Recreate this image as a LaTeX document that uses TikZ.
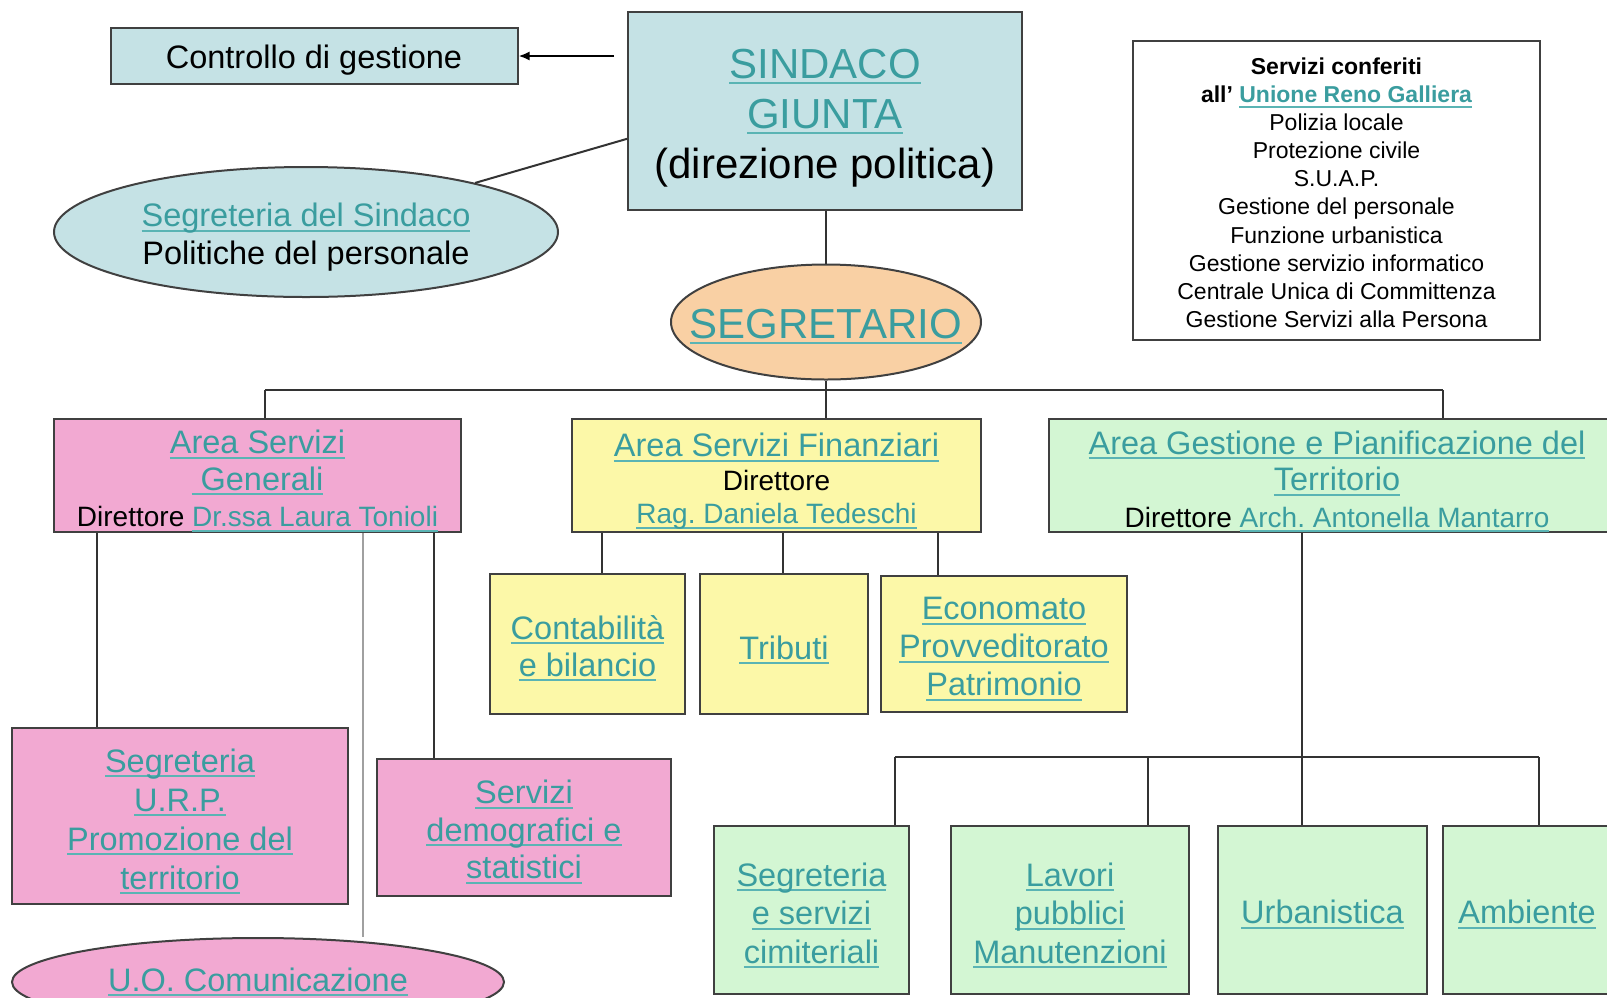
\documentclass[tikz,border=0pt]{standalone}
\usepackage{fontspec}
\setmainfont{Liberation Sans}
\usetikzlibrary{shapes.geometric,arrows.meta}
\frenchspacing

\definecolor{azzurro}{HTML}{C5E2E5}
\definecolor{rosa}{HTML}{F2A9D2}
\definecolor{giallo}{HTML}{FCF8A8}
\definecolor{verde}{HTML}{D3F6D3}
\definecolor{pesca}{HTML}{F9D0A4}
\definecolor{linkteal}{HTML}{3A9D9F}
\definecolor{sottolinea}{HTML}{5AB4B4}
\definecolor{bordo}{HTML}{404040}
\definecolor{filoscuro}{HTML}{333333}
\definecolor{filochiaro}{HTML}{A0A0A0}

\newsavebox\lkbox
\newcommand\lk[1]{{\color{linkteal}\sbox\lkbox{#1}\rlap{\color{sottolinea}\rule[-5pt]{\wd\lkbox}{1.8pt}}\usebox\lkbox}}
\newcommand\su[1]{\rule{0pt}{#1pt}}
\newcommand\grande{\fontsize{42}{50}\selectfont}
\newcommand\medio{\fontsize{32.5}{37}\selectfont}
\newcommand\piccolo{\fontsize{28}{37}\selectfont}
\newcommand\minimo{\fontsize{23}{28.1}\selectfont}

\tikzset{every path/.style={line width=2pt}}
\tikzset{
  orgbox/.style={rectangle,draw=bordo,align=center,inner sep=0pt},
  orgoval/.style={ellipse,draw=bordo,align=center,inner sep=0pt},
  conn/.style={draw=filoscuro},
  connlight/.style={draw=filochiaro},
}

\begin{document}
\begin{tikzpicture}[x=1pt,y=-1pt]
  \useasboundingbox (0,0) rectangle (1607,997);
  \node[orgbox,fill=azzurro,minimum width=407,minimum height=56,font=\medio] (ctrl) at (314,56) {\su{32}Controllo di gestione};
  \node[orgbox,fill=azzurro,minimum width=394,minimum height=198,font=\grande] (sindaco) at (825,111) {\su{44}\lk{SINDACO}\\\lk{GIUNTA}\\(direzione politica)};
  \node[orgoval,fill=azzurro,minimum width=504,minimum height=130,font=\fontsize{32.5}{38}\selectfont] (segsind) at (306,232) {\su{34}\lk{Segreteria del Sindaco}\\Politiche del personale};
  \node[orgoval,fill=pesca,minimum width=310,minimum height=115,inner xsep=-27pt,font=\grande] (segr) at (826,322) {\su{38}\lk{SEGRETARIO}};
  \node[orgbox,fill=white,minimum width=407,minimum height=299,font=\minimo] (conf) at (1336.5,190.5) {\su{21}\textbf{Servizi conferiti}\\\textbf{all' \lk{Unione Reno Galliera}}\\Polizia locale\\Protezione civile\\S.U.A.P.\\Gestione del personale\\Funzione urbanistica\\Gestione servizio informatico\\Centrale Unica di Committenza\\Gestione Servizi alla Persona};

  \node[orgbox,fill=rosa,minimum width=407,minimum height=113,font=\fontsize{32.5}{36.5}\selectfont] (asg) at (257.5,475.5) {\su{34}\lk{Area Servizi}\\\lk{\ Generali}\\{\piccolo Direttore \lk{Dr.ssa Laura Tonioli}}};
  \node[orgbox,fill=giallo,minimum width=409,minimum height=113,font=\fontsize{32.5}{33.5}\selectfont] (asf) at (776.5,475.5) {\su{35}\lk{Area Servizi Finanziari}\\{\piccolo Direttore}\\{\piccolo\lk{Rag. Daniela Tedeschi}}};
  \node[orgbox,fill=verde,minimum width=576,minimum height=113,font=\fontsize{32.5}{36.5}\selectfont] (agp) at (1337,475.5) {\su{35}\lk{Area Gestione e Pianificazione del}\\\lk{Territorio}\\{\piccolo Direttore \lk{Arch. Antonella Mantarro}}};

  \node[orgbox,fill=giallo,minimum width=195,minimum height=140,font=\medio] (cont) at (587.5,644) {\su{32}\lk{Contabilità}\\\lk{e bilancio}};
  \node[orgbox,fill=giallo,minimum width=168,minimum height=140,font=\medio] (trib) at (784,644) {\su{35}\lk{Tributi}};
  \node[orgbox,fill=giallo,minimum width=246,minimum height=136,font=\fontsize{32.5}{38}\selectfont] (econ) at (1004,644) {\su{32}\lk{Economato}\\\lk{Provveditorato}\\\lk{Patrimonio}};

  \node[orgbox,fill=rosa,minimum width=336,minimum height=176,font=\fontsize{32.5}{39}\selectfont] (urp) at (180,816) {\su{34}\lk{Segreteria}\\\lk{U.R.P.}\\\lk{Promozione del}\\\lk{territorio}};
  \node[orgbox,fill=rosa,minimum width=294,minimum height=137,font=\fontsize{32.5}{37.5}\selectfont] (demo) at (524,827.5) {\su{32}\lk{Servizi}\\\lk{demografici e}\\\lk{statistici}};
  \node[orgoval,fill=rosa,minimum width=492,minimum height=88,font=\medio] (uo) at (258,982) {\lk{U.O. Comunicazione}};

  \node[orgbox,fill=verde,minimum width=195,minimum height=168,font=\fontsize{32.5}{38.5}\selectfont] (cim) at (811.5,910) {\su{34}\lk{Segreteria}\\\lk{e servizi}\\\lk{cimiteriali}};
  \node[orgbox,fill=verde,minimum width=238,minimum height=168,font=\fontsize{32.5}{38.5}\selectfont] (lav) at (1070,910) {\su{34}\lk{Lavori}\\\lk{pubblici}\\\lk{Manutenzioni}};
  \node[orgbox,fill=verde,minimum width=209,minimum height=168,font=\medio] (urb) at (1322.5,910) {\su{32}\lk{Urbanistica}};
  \node[orgbox,fill=verde,minimum width=168,minimum height=168,font=\medio] (amb) at (1527,910) {\su{32}\lk{Ambiente}};

  \draw[-{Latex[length=11pt,width=9pt]},shorten <=13pt] (sindaco.west |- ctrl.east) -- (ctrl.east);
  \draw[conn] (sindaco.188) -- (segsind);
  \draw[conn] (segr.north) -- (segr.north |- sindaco.south);

  \coordinate (bus) at (826,390);
  \coordinate (busL) at (265,390);
  \coordinate (busR) at (1443,390);
  \draw[conn] (segr.south) -- (bus);
  \draw[conn] (busL) -- (busR);
  \draw[conn] (busL) -- (busL |- asg.north);
  \draw[conn] (bus) -- (bus |- asf.north);
  \draw[conn] (busR) -- (busR |- agp.north);

  \draw[conn] (asf.south -| 602,0) -- (cont.north -| 602,0);
  \draw[conn] (asf.south -| 783,0) -- (trib.north -| 783,0);
  \draw[conn] (asf.south -| 938,0) -- (econ.north -| 938,0);

  \draw[conn] (asg.south -| 97,0) -- (urp.north -| 97,0);
  \draw[conn] (asg.south -| 434,0) -- (demo.north -| 434,0);
  \draw[connlight] (asg.south -| 363,0) -- (uo.north -| 363,0);

  \coordinate (busA) at (895,757);
  \coordinate (busB) at (1539,757);
  \draw[conn] (agp.south -| 1302,0) -- (urb.north -| 1302,0);
  \draw[conn] (busA) -- (busB);
  \draw[conn] (busA) -- (busA |- cim.north);
  \draw[conn] (busA -| 1148,0) -- (lav.north -| 1148,0);
  \draw[conn] (busB) -- (busB |- amb.north);
\end{tikzpicture}
\end{document}
